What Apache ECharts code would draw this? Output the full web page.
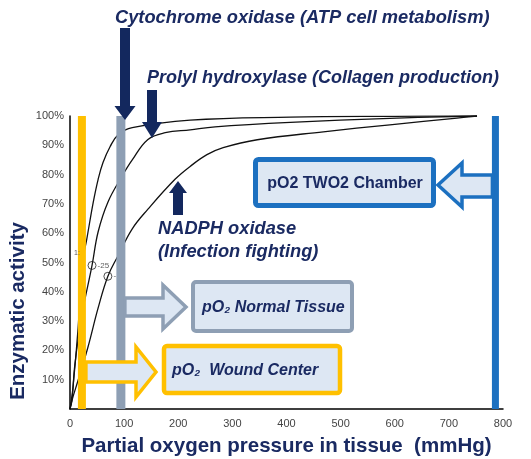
<!DOCTYPE html>
<html>
<head>
<meta charset="utf-8">
<script src="https://cdn.jsdelivr.net/npm/echarts@6/dist/echarts.min.js"></script>
<style>
  html, body { margin: 0; padding: 0; background: #ffffff; }
  #chart { width: 531px; height: 459px; }
</style>
</head>
<body>
<div id="chart"></div>
<script>
// ---- data ----
const xTicks = [0, 100, 200, 300, 400, 500, 600, 700, 800];
const yTicks = [10, 20, 30, 40, 50, 60, 70, 80, 90, 100];

// enzymatic activity (%) vs partial oxygen pressure (mmHg)
const cytochromeOxidase = [[0,0],[5.5,7.4],[15,27.7],[22,49],[31,58],[43,70.6],[52,78.4],[61,84.1],[74,89.5],[89,93.6],[115,96],[222,98.6],[407,99.6],[600,99.9],[752,100]];
const prolylHydroxylase = [[0,0],[3.7,3],[9,15.2],[22,32],[40.7,49],[52,60.5],[70,70.6],[96,79.4],[115,85],[144,92],[176,94.3],[222,95.3],[268,96.3],[407,97.8],[591,99.2],[752,100]];
const nadphOxidase = [[0,0],[3.7,3],[15,9.8],[33,21],[52,34.5],[70,45.3],[89,52.4],[115,61.5],[144,68.2],[194,78.4],[222,82.8],[253,86.8],[283,89.2],[346,91.9],[468,94.6],[591,97],[715,99.3],[752,100]];

// half-saturation markers on the curves
const p50Markers = [[40.7, 49, '-25'], [70, 45.3, '-']];

// reference pO2 levels (mmHg)
const woundCenterPO2 = 22;
const normalTissuePO2 = 94;
const chamberPO2 = 786;

// ---- styles ----
const NAVY = '#1a2a62';
const ARROW_NAVY = '#13285e';
const YELLOW = '#ffc000';
const GREY = '#8e9fb4';
const BLUE = '#1c70c0';
const FILL = '#dde7f3';

const chart = echarts.init(document.getElementById('chart'));

function curve(name, data) {
  return {
    name, type: 'line', data, smooth: 0.4, showSymbol: false, symbol: 'none',
    lineStyle: { color: '#111', width: 1.3 }, z: 2, silent: true
  };
}
function vbar(name, x, color, width) {
  return {
    name, type: 'line', data: [[x, 0], [x, 100]], showSymbol: false, symbol: 'none',
    lineStyle: { color, width, cap: 'butt' }, z: 4, silent: true
  };
}

const option = {
  animation: false,
  grid: { left: 70, right: 28, top: 116, bottom: 50, containLabel: false, outerBoundsMode: 'none' },
  xAxis: {
    type: 'value', min: 0, max: 800, interval: 100,
    axisLine: { show: true, lineStyle: { color: '#000', width: 1.5 } },
    axisTick: { show: false },
    splitLine: { show: false },
    axisLabel: { color: '#444', fontSize: 11, fontFamily: 'Liberation Sans', margin: 9,
      formatter: v => xTicks.includes(v) ? String(v) : '' },
    name: 'Partial oxygen pressure in tissue  (mmHg)',
    nameLocation: 'middle', nameGap: 27,
    nameTextStyle: { color: NAVY, fontSize: 20.5, fontWeight: 'bold', fontFamily: 'Liberation Sans' }
  },
  yAxis: {
    type: 'value', min: 0, max: 100, interval: 10,
    axisLine: { show: true, lineStyle: { color: '#000', width: 1.5 } },
    axisTick: { show: false },
    splitLine: { show: false },
    axisLabel: { color: '#444', fontSize: 11, fontFamily: 'Liberation Sans', margin: 6,
      formatter: v => yTicks.includes(v) ? v + '%' : '' }
  },
  series: [
    curve('Cytochrome oxidase', cytochromeOxidase),
    curve('Prolyl hydroxylase', prolylHydroxylase),
    curve('NADPH oxidase', nadphOxidase),
    {
      type: 'scatter', data: p50Markers.map(p => ({ value: [p[0], p[1]], label: { formatter: p[2] } })),
      symbol: 'circle', symbolSize: 8, z: 3, silent: true,
      itemStyle: { color: 'rgba(255,255,255,0)', borderColor: '#222', borderWidth: 1 },
      label: { show: true, position: 'right', distance: 1, fontSize: 8, color: '#333' }
    },
    vbar('pO2 Wound Center', woundCenterPO2, YELLOW, 8),
    vbar('pO2 Normal Tissue', normalTissuePO2, GREY, 9),
    vbar('pO2 TWO2 Chamber', chamberPO2, BLUE, 7)
  ]
};
chart.setOption(option);

// ---- annotations anchored on the data positions ----
const px = (x, y) => chart.convertToPixel({ gridIndex: 0 }, [x, y]);
const wX = px(woundCenterPO2, 0)[0];
const nX = px(normalTissuePO2, 0)[0];
const cX = px(chamberPO2, 0)[0];

function hollowRight(x0, xh, tip, yc, sh, hh, stroke) {
  return { type: 'polygon', z: 20, shape: { points: [
    [x0, yc - sh], [xh, yc - sh], [xh, yc - hh], [tip, yc], [xh, yc + hh], [xh, yc + sh], [x0, yc + sh]
  ] }, style: { fill: FILL, stroke, lineWidth: 3.5, lineJoin: 'miter' } };
}
function box(x, y, w, h, stroke, lw) {
  return { type: 'rect', z: 20, shape: { x, y, width: w, height: h, r: 3 },
    style: { fill: FILL, stroke, lineWidth: lw } };
}
function txt(x, y, text, size, italic, align) {
  return { type: 'text', z: 30, x, y, style: { text, fill: NAVY, font: (italic ? 'italic ' : '') + 'bold ' + size + 'px "Liberation Sans", Arial, sans-serif',
    textAlign: align || 'left', textVerticalAlign: 'middle' } };
}
function solidArrowDown(xc, yTop, yHead, yTip, sw, hw) {
  return { type: 'polygon', z: 25, shape: { points: [
    [xc - sw / 2, yTop], [xc + sw / 2, yTop], [xc + sw / 2, yHead], [xc + hw / 2, yHead], [xc, yTip],
    [xc - hw / 2, yHead], [xc - sw / 2, yHead]
  ] }, style: { fill: ARROW_NAVY } };
}

const graphics = [
  // enzyme labels
  txt(115, 18, 'Cytochrome oxidase (ATP cell metabolism)', 18.3, true),
  txt(147, 78, 'Prolyl hydroxylase (Collagen production)', 18, true),
  txt(158, 229, 'NADPH oxidase', 18.3, true),
  txt(158, 252, '(Infection fighting)', 18.3, true),
  // enzyme arrows
  solidArrowDown(125, 28, 106, 120, 10, 21),
  solidArrowDown(152, 90, 122, 138, 10, 20),
  solidArrowDown(178, 215, 193, 181, 10, 18),
  // y axis title
  { type: 'text', z: 30, x: 18, y: 311, rotation: Math.PI / 2,
    style: { text: 'Enzymatic activity', fill: NAVY, font: 'bold 20.5px "Liberation Sans", Arial, sans-serif',
      textAlign: 'center', textVerticalAlign: 'middle' } },
  // chamber
  box(255.5, 159.5, 178, 46, BLUE, 5),
  { type: 'polygon', z: 20, shape: { points: [
    [cX - 3, 175], [462, 175], [462, 163], [438, 185], [462, 207], [462, 197], [cX - 3, 197]
  ] }, style: { fill: FILL, stroke: BLUE, lineWidth: 3.5 } },
  txt(345, 184, 'pO2 TWO2 Chamber', 16, false, 'center'),
  // normal tissue
  box(193, 282, 159, 49, GREY, 4),
  hollowRight(nX + 4, 163, 186, 307, 9, 22, GREY),
  txt(202, 308, 'pO\u2082 Normal Tissue', 16, true),
  // wound center
  box(164, 346, 176, 47, YELLOW, 4.5),
  hollowRight(wX + 4, 136, 156, 372, 10, 25, YELLOW),
  txt(172, 371, 'pO\u2082  Wound Center', 16, true),
  // small curve note
  { type: 'text', z: 30, x: 74, y: 253, style: { text: '1:', fill: '#555', font: '7px sans-serif', textVerticalAlign: 'middle' } }
];
chart.setOption({ graphic: graphics });
</script>
</body>
</html>
